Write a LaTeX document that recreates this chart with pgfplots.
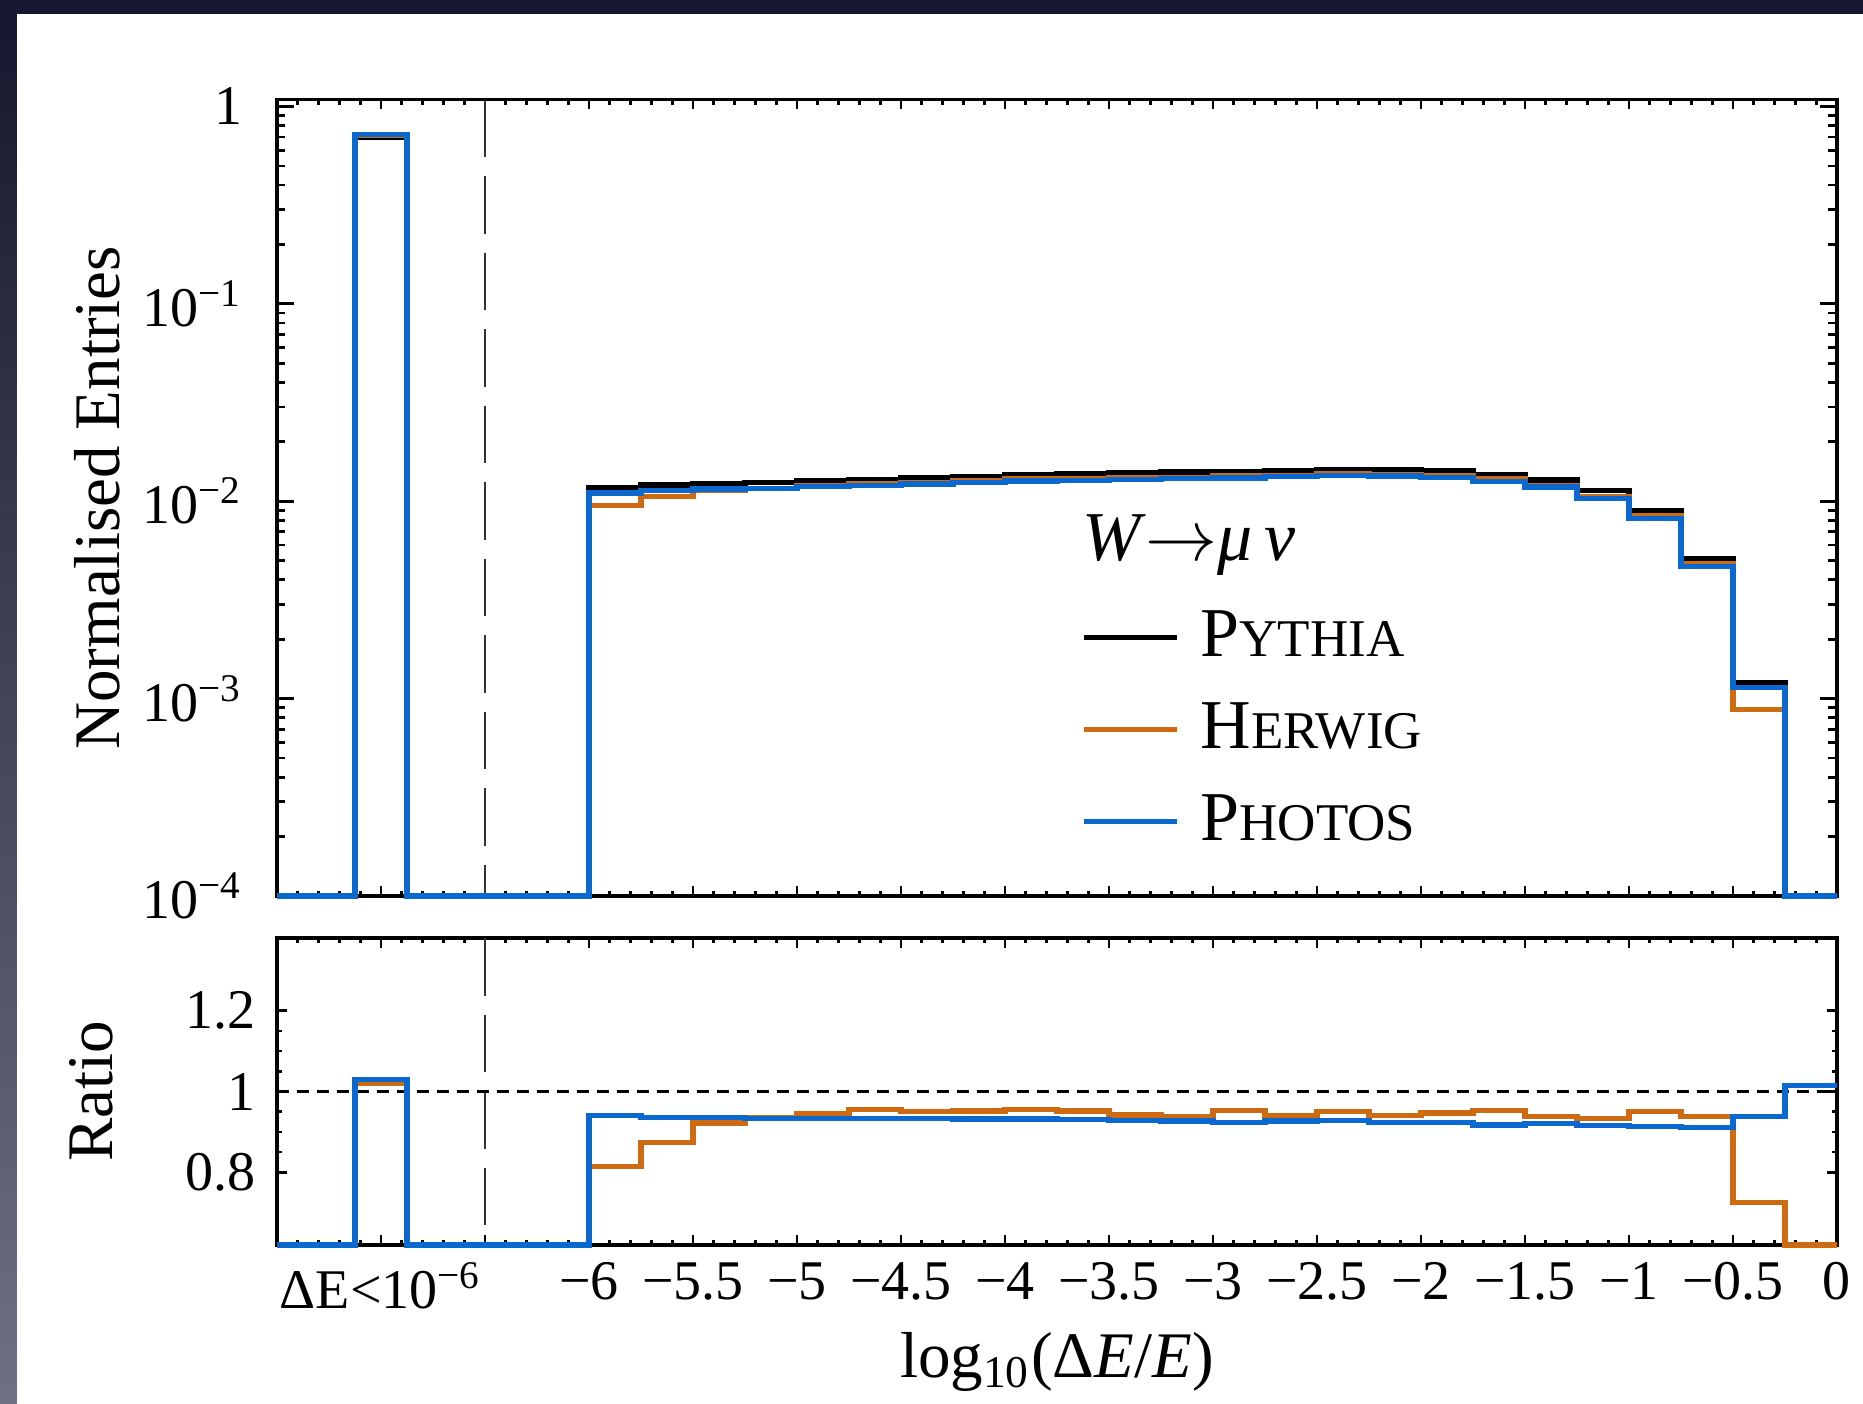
\documentclass[border=0pt]{standalone}
\usepackage{fontspec}
\setmainfont{Liberation Serif}
\usepackage{pgfplots}
\pgfplotsset{compat=1.18}

\definecolor{bgtop}{RGB}{22,22,46}
\definecolor{bgbot}{RGB}{112,112,132}
\definecolor{hblue}{RGB}{10,104,206}
\definecolor{horange}{RGB}{206,106,18}
\definecolor{dashgray}{RGB}{50,50,50}

\newcommand{\tickfont}{\fontsize{11.2}{13}\selectfont}
\newcommand{\labfont}{\fontsize{13}{15}\selectfont}
\newcommand{\legfont}{\fontsize{14}{16}\selectfont}
\newcommand{\fsc}[2]{{\fontsize{14}{16}\selectfont #1\fontsize{10.6}{13}\selectfont #2}}

\pgfplotsset{
  histo/.style={
    scale only axis, width=312pt,
    xmin=-7.5, xmax=0,
    clip=false,
    axis line style={line width=0.65pt},
    tick align=inside, tick pos=both,
    xtick={-7.5,-7,-6.5,-6,-5.5,-5,-4.5,-4,-3.5,-3,-2.5,-2,-1.5,-1,-0.5,0},
    minor x tick num=4,
    tick style={line width=0.55pt, black},
    major tick length=2pt, minor tick length=1pt,
    tick label style={font=\tickfont},
    const plot,
  },
}

\begin{document}
\begin{tikzpicture}
\shade[top color=bgtop, bottom color=bgbot] (0,0) rectangle (372.6pt,-280.8pt);
\fill[white] (3.4pt,-2.8pt) rectangle (372.6pt,-280.8pt);

% ---------------- upper panel ----------------
\begin{axis}[histo,
  at={(55.4pt,-19.9pt)}, anchor=north west,
  height=159.3pt,
  ymode=log, ymin=1e-4, ymax=1.085,
  ytick={1e-4,1e-3,1e-2,1e-1,1},
  yticklabels={10\textsuperscript{−4},10\textsuperscript{−3},10\textsuperscript{−2},10\textsuperscript{−1},1},
  every y tick/.append style={/pgfplots/major tick length=3.4pt,/pgfplots/minor tick length=1.7pt},
  yticklabel style={xshift=-3.3pt},
  xticklabels={},
  ylabel={Normalised Entries},
  ylabel style={font=\labfont, at={(axis description cs:-0.115,0.5)}, anchor=center},
  legend style={at={(rel axis cs:0.515,0.366)}, anchor=north west, draw=none, fill=none,
    inner sep=0pt, nodes={inner sep=1pt}, row sep=5.8pt, column sep=3.2pt, font=\legfont},
  legend cell align=left,
  legend image code/.code={\draw[#1, line width=1.05pt] (0pt,0pt) -- (18.6pt,0pt);},
]
\addplot[dashgray, line width=0.45pt, dash pattern=on 11.5pt off 3.8pt, forget plot]
  coordinates {(-6.5,1.085) (-6.5,1e-4)};

\addplot[black, line width=1.05pt] coordinates {
(-7.5,1e-4) (-7.125,0.700) (-6.875,1e-4)
(-6,0.01170) (-5.75,0.01208) (-5.5,0.01232) (-5.25,0.01246) (-5,0.01270)
(-4.75,0.01291) (-4.5,0.01311) (-4.25,0.01331) (-4,0.01358) (-3.75,0.01375)
(-3.5,0.01390) (-3.25,0.01405) (-3,0.01420) (-2.75,0.01435) (-2.5,0.01451)
(-2.25,0.01451) (-2,0.01422) (-1.75,0.01369) (-1.5,0.01281) (-1.25,0.01131)
(-1,0.00892) (-0.75,0.00514) (-0.5,0.001209) (-0.25,1e-4) (0,1e-4)};
\addlegendentry{\fsc{P}{YTHIA}}

\addplot[horange, line width=1.05pt] coordinates {
(-7.5,1e-4) (-7.125,0.714) (-6.875,1e-4)
(-6,0.009524) (-5.75,0.010558) (-5.5,0.011359) (-5.25,0.011650) (-5,0.012002)
(-4.75,0.012329) (-4.5,0.012455) (-4.25,0.012671) (-4,0.012969) (-3.75,0.013090)
(-3.5,0.013094) (-3.25,0.013179) (-3,0.013533) (-2.75,0.013489) (-2.5,0.013785)
(-2.25,0.013639) (-2,0.013466) (-1.75,0.013047) (-1.5,0.012029) (-1.25,0.010564)
(-1,0.008483) (-0.75,0.004826) (-0.5,0.000878) (-0.25,1e-4) (0,1e-4)};
\addlegendentry{\fsc{H}{ERWIG}}

\addplot[hblue, line width=1.05pt] coordinates {
(-7.5,1e-4) (-7.125,0.720) (-6.875,1e-4)
(-6,0.010998) (-5.75,0.011307) (-5.5,0.011519) (-5.25,0.011638) (-5,0.011862)
(-4.75,0.012045) (-4.5,0.012232) (-4.25,0.012405) (-4,0.012657) (-3.75,0.012788)
(-3.5,0.012899) (-3.25,0.013024) (-3,0.013121) (-2.75,0.013302) (-2.5,0.013465)
(-2.25,0.013407) (-2,0.013139) (-1.75,0.012554) (-1.5,0.011798) (-1.25,0.010349)
(-1,0.008144) (-0.75,0.004683) (-0.5,0.001135) (-0.25,1e-4) (0,1e-4)};
\addlegendentry{\fsc{P}{HOTOS}}

\node[anchor=base west, font=\legfont, inner sep=0pt] at (rel axis cs:0.5155,0.4206)
  {\textit{W}$\rightarrow$\textit{μ\,ν}};
\end{axis}

% ---------------- ratio panel ----------------
\begin{axis}[histo,
  at={(55.4pt,-187.6pt)}, anchor=north west,
  height=61.4pt,
  ymin=0.62, ymax=1.38,
  ytick={0.8,1,1.2}, yticklabels={0.8,1,1.2},
  minor y tick num=3,
  yticklabel style={xshift=-0.8pt},
  xticklabels={,ΔE<10\textsuperscript{−6},,−6,−5.5,−5,−4.5,−4,−3.5,−3,−2.5,−2,−1.5,−1,−0.5,0},
  ylabel={Ratio},
  ylabel style={font=\labfont, at={(axis description cs:-0.119,0.5)}, anchor=center},
  xlabel={log\textsubscript{10}(Δ\textit{E}/\textit{E})},
  xlabel style={font=\labfont, at={(axis description cs:0.5,-0.433)}, anchor=base},
]
\addplot[dashgray, line width=0.45pt, dash pattern=on 11.5pt off 3.8pt]
  coordinates {(-6.5,1.38) (-6.5,0.62)};
\addplot[black, line width=0.5pt, dash pattern=on 2.4pt off 1.6pt]
  coordinates {(-7.5,1) (0,1)};

\addplot[horange, line width=1.05pt] coordinates {
(-7.5,0.62) (-7.125,1.020) (-6.875,0.62)
(-6,0.814) (-5.75,0.874) (-5.5,0.922) (-5.25,0.935) (-5,0.945)
(-4.75,0.955) (-4.5,0.950) (-4.25,0.952) (-4,0.955) (-3.75,0.952)
(-3.5,0.942) (-3.25,0.938) (-3,0.953) (-2.75,0.940) (-2.5,0.950)
(-2.25,0.940) (-2,0.947) (-1.75,0.953) (-1.5,0.939) (-1.25,0.934)
(-1,0.951) (-0.75,0.939) (-0.5,0.726) (-0.25,0.62) (0,0.62)};

\addplot[hblue, line width=1.05pt] coordinates {
(-7.5,0.62) (-7.125,1.029) (-6.875,0.62)
(-6,0.940) (-5.75,0.936) (-5.5,0.935) (-5.25,0.934) (-5,0.934)
(-4.75,0.933) (-4.5,0.933) (-4.25,0.932) (-4,0.932) (-3.75,0.930)
(-3.5,0.928) (-3.25,0.927) (-3,0.924) (-2.75,0.927) (-2.5,0.928)
(-2.25,0.924) (-2,0.924) (-1.75,0.917) (-1.5,0.921) (-1.25,0.915)
(-1,0.913) (-0.75,0.911) (-0.5,0.939) (-0.25,1.015) (0,1.015)};
\end{axis}

\pgfresetboundingbox
\path (0,0) rectangle (372.6pt,-280.8pt);
\end{tikzpicture}
\end{document}
